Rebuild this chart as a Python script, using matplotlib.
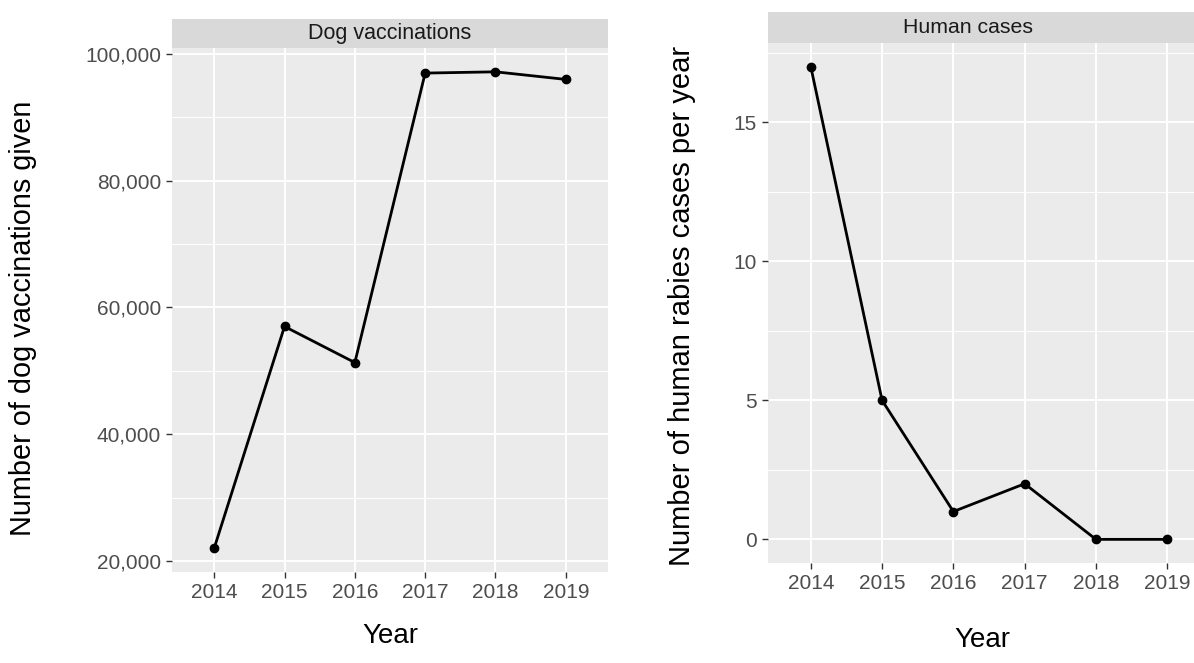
import matplotlib.pyplot as plt
from matplotlib.ticker import FuncFormatter

plt.rcParams['font.family'] = ['Liberation Sans', 'DejaVu Sans']

years = [2014, 2015, 2016, 2017, 2018, 2019]
dog_vacc = [22000, 57000, 51300, 97000, 97200, 96000]
human_cases = [17, 5, 1, 2, 0, 0]

dog_ticks = [20000, 40000, 60000, 80000, 100000]
dog_minor = [30000, 50000, 70000, 90000]
hum_ticks = [0, 5, 10, 15]
hum_minor = [2.5, 7.5, 12.5, 17.5]

W, H = 1194, 663
fig = plt.figure(figsize=(W / 100, H / 100), dpi=100)
fig.patch.set_facecolor('white')


def fbox(x0, y0, x1, y1):
    # pixel box -> figure fraction [l, b, w, h]
    return [x0 / W, 1 - y1 / H, (x1 - x0) / W, (y1 - y0) / H]


def style(ax, yticks, yminor, ylim, fmt=None):
    ax.set_facecolor('#EBEBEB')
    for s in ax.spines.values():
        s.set_visible(False)
    ax.set_xticks(years)
    ax.set_xticklabels([str(y) for y in years])
    ax.set_yticks(yticks)
    ax.set_yticks(yminor, minor=True)
    if fmt:
        ax.yaxis.set_major_formatter(FuncFormatter(fmt))
    ax.set_xlim(2013.4, 2019.6)
    ax.set_ylim(*ylim)
    ax.grid(True, which='major', color='white', lw=1.4)
    ax.grid(True, which='minor', axis='y', color='white', lw=0.7)
    ax.set_axisbelow(True)
    ax.tick_params(which='major', length=4, width=1, color='#333333',
                   labelcolor='#4D4D4D', labelsize=15, pad=4)
    ax.tick_params(which='minor', length=0)


def strip(box, title, tx=0.5, size=15.5):
    sax = fig.add_axes(fbox(*box))
    sax.set_facecolor('#D9D9D9')
    for s in sax.spines.values():
        s.set_visible(False)
    sax.set_xticks([])
    sax.set_yticks([])
    sax.text(tx, 0.5, title, ha='center', va='center', fontsize=size,
             color='#1A1A1A', transform=sax.transAxes)


# left panel
ax1 = fig.add_axes(fbox(172, 48, 608, 572))
ax1.plot(years, dog_vacc, color='black', lw=2, marker='o', ms=6)
style(ax1, dog_ticks, dog_minor, (18240, 100960),
      fmt=lambda v, p: f'{int(v):,}')
strip((172, 19, 608, 48), 'Dog vaccinations')
fig.text(23 / W, 1 - 318 / H, 'Number of dog vaccinations given', rotation=90,
         ha='center', va='center', fontsize=20.8)
fig.text(390 / W, 1 - 636 / H, 'Year', ha='center', va='center', fontsize=20)

# right panel
ax2 = fig.add_axes(fbox(768, 43, 1210, 563))
ax2.plot(years, human_cases, color='black', lw=2, marker='o', ms=6)
style(ax2, hum_ticks, hum_minor, (-0.85, 17.85))
strip((768, 12, 1210, 43), 'Human cases', tx=(968 - 768) / (1210 - 768),
      size=15.3)
fig.text(682 / W, 1 - 306 / H, 'Number of human rabies cases per year',
         rotation=90, ha='center', va='center', fontsize=21)
fig.text(982 / W, 1 - 640 / H, 'Year', ha='center', va='center', fontsize=20)

fig.savefig('out.png', dpi=100)
